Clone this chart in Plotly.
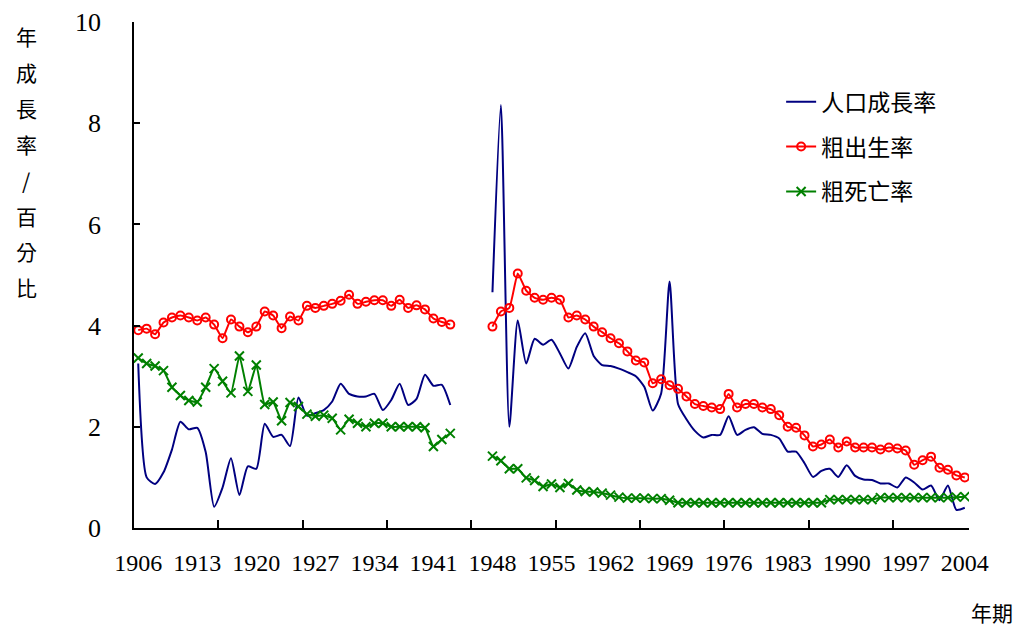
import plotly.graph_objects as go

# ---------------- data ----------------
years = list(range(1906, 2005))
tick_years = list(range(1906, 2005, 7))
y_ticks = [0, 2, 4, 6, 8, 10]
decade_marks = [1915.5 + 10 * k for k in range(9)]

growth_1906_1943 = [3.25, 1.0, 0.87, 1.1, 1.55, 2.10, 1.95, 1.98, 1.5, 0.42,
                    0.8, 1.38, 0.65, 1.22, 1.17, 2.06, 1.80, 1.84, 1.62, 2.58,
                    2.22, 2.27, 2.33, 2.50, 2.85, 2.65, 2.60, 2.60, 2.65, 2.33,
                    2.53, 2.85, 2.43, 2.55, 3.03, 2.81, 2.83, 2.43]
growth_1948_2004 = [4.66, 8.36, 2.0, 4.1, 3.25, 3.74, 3.62, 3.72, 3.45, 3.15,
                    3.58, 3.85, 3.40, 3.22, 3.20, 3.15, 3.08, 3.0, 2.79,
                    2.32, 2.66, 4.87, 2.45, 2.15, 1.92, 1.79, 1.84, 1.84, 2.21,
                    1.84, 1.94, 1.99, 1.86, 1.84, 1.77, 1.51, 1.51, 1.28,
                    1.01, 1.13, 1.17, 1.01, 1.24, 1.03, 0.96, 0.95, 0.88, 0.88,
                    0.80, 1.0, 0.9, 0.76, 0.84, 0.55, 0.84, 0.36, 0.40]

birth_1906_1943 = [3.91, 3.94, 3.83, 4.06, 4.16, 4.20, 4.16, 4.10, 4.16, 4.02,
                   3.75, 4.12, 3.98, 3.87, 3.98, 4.28, 4.20, 3.95, 4.18, 4.10,
                   4.39, 4.35, 4.39, 4.43, 4.49, 4.61, 4.43, 4.47, 4.50, 4.50,
                   4.39, 4.51, 4.35, 4.40, 4.32, 4.14, 4.07, 4.02]
birth_1948_2004 = [3.98, 4.28, 4.35, 5.03, 4.69, 4.55, 4.51, 4.55, 4.51, 4.16,
                   4.20, 4.12, 3.98, 3.87, 3.75, 3.65, 3.49, 3.31, 3.27,
                   2.86, 2.94, 2.82, 2.75, 2.60, 2.45, 2.41, 2.38, 2.35, 2.65,
                   2.38, 2.45, 2.45, 2.38, 2.35, 2.23, 2.00, 1.98, 1.83,
                   1.61, 1.65, 1.75, 1.59, 1.71, 1.59, 1.59, 1.59, 1.55, 1.59,
                   1.57, 1.53, 1.25, 1.34, 1.41, 1.19, 1.15, 1.04, 1.00]

death_1906_1943 = [3.36, 3.25, 3.20, 3.11, 2.78, 2.62, 2.52, 2.49, 2.78, 3.15,
                   2.90, 2.67, 3.40, 2.70, 3.22, 2.44, 2.49, 2.12, 2.48, 2.40,
                   2.25, 2.21, 2.23, 2.17, 1.94, 2.15, 2.07, 2.00, 2.07, 2.07,
                   2.00, 2.00, 2.00, 2.00, 1.98, 1.61, 1.75, 1.87]
death_1948_2004 = [1.42, 1.33, 1.17, 1.17, 0.99, 0.94, 0.82, 0.87, 0.80, 0.88,
                   0.75, 0.72, 0.71, 0.69, 0.65, 0.61, 0.59, 0.59, 0.59,
                   0.58, 0.58, 0.55, 0.50, 0.50, 0.50, 0.50, 0.50, 0.50, 0.50,
                   0.50, 0.50, 0.50, 0.50, 0.50, 0.50, 0.50, 0.50, 0.50,
                   0.50, 0.50, 0.56, 0.56, 0.56, 0.56, 0.56, 0.56, 0.60, 0.60,
                   0.60, 0.60, 0.60, 0.60, 0.60, 0.60, 0.60, 0.61, 0.62]

gap = [None] * 4  # 1944-1947: no data
growth = growth_1906_1943 + gap + growth_1948_2004
birth = birth_1906_1943 + gap + birth_1948_2004
death = death_1906_1943 + gap + death_1948_2004

series_names = ["人口成長率", "粗出生率", "粗死亡率"]
y_title = "年成長率/百分比"
x_title = "年期"

# ---------------- figure ----------------
NUM_FONT = "Liberation Serif, Times New Roman, serif"
CJK_FONT = "Noto Sans CJK TC, Noto Sans CJK SC, sans-serif"

fig = go.Figure()
fig.add_trace(go.Scatter(
    x=years, y=growth, name=series_names[0], mode="lines", legendgroup="g1",
    line=dict(color="#000080", width=2, shape="spline", smoothing=0.6),
    connectgaps=False))
fig.add_trace(go.Scatter(
    x=years, y=birth, name=series_names[1], mode="lines+markers", legendgroup="g2",
    line=dict(color="#FF0000", width=2, shape="spline", smoothing=0.4),
    marker=dict(symbol="circle-open", size=8, color="#FF0000",
                line=dict(width=2, color="#FF0000")),
    connectgaps=False))
fig.add_trace(go.Scatter(
    x=years, y=death, name=series_names[2], mode="lines+markers", legendgroup="g3",
    line=dict(color="#008000", width=2, shape="spline", smoothing=0.4),
    marker=dict(symbol="x-thin-open", size=9, color="#008000",
                line=dict(width=2, color="#008000")),
    connectgaps=False))
# invisible carrier so the overlay axis (decade tick marks) gets drawn
fig.add_trace(go.Scatter(
    x=years, y=growth, xaxis="x2", mode="lines", opacity=0,
    line=dict(width=0), showlegend=False, hoverinfo="skip"))

# page body has an 8px default margin -> figure is 1014x618 placed at (8,8)
annotations = []
for i, ch in enumerate(y_title):
    y_px = 36 + 35.9 * i  # reference-page pixel of each stacked character
    annotations.append(dict(
        text=ch, xref="paper", yref="paper",
        x=-0.1293, y=(528 - y_px) / 506, xanchor="center", yanchor="middle",
        showarrow=False, font=dict(family=CJK_FONT, size=21, color="black")))
annotations.append(dict(
    text=x_title, xref="paper", yref="paper",
    x=1.0275, y=-0.166, xanchor="center", yanchor="middle", showarrow=False,
    font=dict(family=CJK_FONT, size=21, color="black")))

fig.update_layout(
    width=1014, height=618,
    margin=dict(l=126, r=53, t=14, b=98, autoexpand=False),
    plot_bgcolor="white", paper_bgcolor="white",
    showlegend=True,
    legend=dict(x=0.775, y=0.885, xanchor="left", yanchor="top",
                font=dict(family=CJK_FONT, size=23, color="black"),
                bgcolor="rgba(0,0,0,0)", tracegroupgap=12),
    xaxis=dict(range=[1905.5, 2004.5], tickmode="array", tickvals=tick_years,
               ticktext=[str(y) for y in tick_years], ticks="",
               showline=True, linecolor="black", linewidth=1.5,
               showgrid=False, zeroline=False, ticklabelstandoff=12,
               automargin=False,
               tickfont=dict(family=NUM_FONT, size=24, color="black")),
    xaxis2=dict(range=[1905.5, 2004.5], overlaying="x", anchor="y", side="bottom",
                tickmode="array", tickvals=decade_marks, ticks="inside",
                ticklen=8, tickwidth=1.5, tickcolor="black",
                showticklabels=False, showline=False, showgrid=False,
                zeroline=False, automargin=False),
    yaxis=dict(range=[0, 10], tickmode="array", tickvals=y_ticks,
               ticktext=[str(v) for v in y_ticks], ticks="inside", ticklen=6,
               tickwidth=1.5, tickcolor="black",
               showline=True, linecolor="black", linewidth=1.5,
               showgrid=False, zeroline=False, ticklabelstandoff=26,
               automargin=False,
               tickfont=dict(family=NUM_FONT, size=26, color="black")),
    annotations=annotations,
)

fig.write_html("out.html")
